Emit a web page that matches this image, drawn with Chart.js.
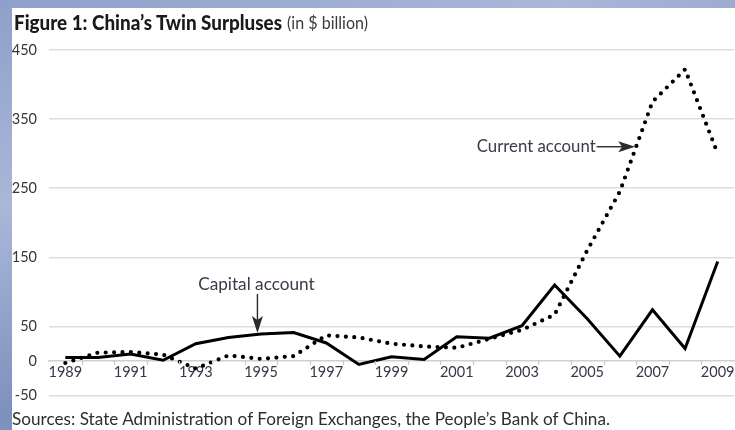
<!DOCTYPE html>
<html>
<head>
<meta charset="utf-8">
<script src="https://cdn.jsdelivr.net/npm/chart.js@4.4.1/dist/chart.umd.min.js"></script>
<style>
  html, body { margin: 0; padding: 0; }
  body {
    width: 735px; height: 430px; position: relative; overflow: hidden;
    background: linear-gradient(160deg, #8f9fc9 0%, #a9b7d8 30%, #7d8fbd 60%, #b8c4e0 100%);
  }
  #panel { position: absolute; left: 12px; top: 8px; right: 0; bottom: 0; background: #ffffff; }
  #wrap { position: absolute; left: 0; top: 0; width: 735px; height: 430px; }
  .t {
    position: absolute; white-space: nowrap; transform-origin: 0 0;
    font-family: Lato, "Noto Sans", sans-serif;
  }
  #t1 { left: 14px; top: 10px; font-size: 20px; font-weight: 900; color: #1a1a1a; }
  #t2 { left: 287px; top: 12px; font-size: 17px; color: #3a3a3a; }
  #source { left: 12px; top: 408px; font-size: 17px; color: #2e2e2e; }
</style>
</head>
<body>
<div id="panel"></div>
<div id="wrap"><canvas id="c" width="735" height="430"></canvas></div>
<div class="t" id="t1">Figure 1: China’s Twin Surpluses</div>
<div class="t" id="t2">(in $ billion)</div>
<div class="t" id="source">Sources: State Administration of Foreign Exchanges, the People’s Bank of China.</div>
<script>
const years = [1989,1990,1991,1992,1993,1994,1995,1996,1997,1998,1999,2000,2001,2002,2003,2004,2005,2006,2007,2008,2009];
const capitalAccount = [5,5,10,1,25,34,39,41,26,-5,6,2,35,33,51,110,61,7,74,18,144];
const currentAccount = [-3,12,13,9,-11,8,3,7,37,34,25,21,19,32,45,67,160,245,375,422,300];
const yTickValues = [-50,0,50,150,250,350,450];
const xTickLabels = [1989,1991,1993,1995,1997,1999,2001,2003,2005,2007,2009];
const seriesNames = ['Capital account','Current account'];

// fit heading texts to the widths seen in the reference (text stays real text)
function fitWidth(id, target) {
  const el = document.getElementById(id);
  const w = el.getBoundingClientRect().width;
  el.style.transform = 'scaleX(' + (target / w) + ')';
}
fitWidth('t1', 268);
fitWidth('t2', 81);
fitWidth('source', 598);

const tickFont = { family: 'Lato, "Noto Sans", sans-serif', size: 14.5 };

const annotationPlugin = {
  id: 'annots',
  afterDatasetsDraw(chart) {
    const ctx = chart.ctx, xs = chart.scales.x, ys = chart.scales.y;
    ctx.save();
    ctx.strokeStyle = '#c8c8c8';
    ctx.lineWidth = 1.2;
    const y0 = ys.getPixelForValue(0);
    for (let i = 0; i < years.length - 1; i++) {
      const px = Math.round(xs.getPixelForValue(years[i] + 0.5)) + 0.5;
      ctx.beginPath(); ctx.moveTo(px, y0); ctx.lineTo(px, y0 + 4); ctx.stroke();
    }
    function head(tx, ty, dx, dy) {
      const len = 17, hw = 5.5, notch = 4;
      const nx = -dy, ny = dx;
      ctx.beginPath();
      ctx.moveTo(tx, ty);
      ctx.lineTo(tx - dx*len + nx*hw, ty - dy*len + ny*hw);
      ctx.lineTo(tx - dx*(len-notch), ty - dy*(len-notch));
      ctx.lineTo(tx - dx*len - nx*hw, ty - dy*len - ny*hw);
      ctx.closePath(); ctx.fill();
    }
    ctx.fillStyle = '#2b2b2b'; ctx.strokeStyle = '#2b2b2b'; ctx.lineWidth = 1.4;
    ctx.font = '16.8px Lato, "Noto Sans", sans-serif';
    const cTailX = xs.getPixelForValue(2005.29), cTipX = xs.getPixelForValue(2006.47), cY = ys.getPixelForValue(310);
    ctx.beginPath(); ctx.moveTo(cTailX, cY); ctx.lineTo(cTipX - 10, cY); ctx.stroke();
    head(cTipX, cY, 1, 0);
    ctx.fillStyle = '#3a3a48';
    ctx.textAlign = 'right'; ctx.textBaseline = 'middle';
    ctx.fillText(seriesNames[1], cTailX - 1, cY);
    ctx.fillStyle = '#2b2b2b';
    const kX = xs.getPixelForValue(1994.89), kTail = ys.getPixelForValue(97), kTip = ys.getPixelForValue(40.5);
    ctx.beginPath(); ctx.moveTo(kX, kTail); ctx.lineTo(kX, kTip - 10); ctx.stroke();
    head(kX, kTip, 0, 1);
    ctx.fillStyle = '#3a3a48';
    ctx.textAlign = 'center';
    ctx.font = '17.2px Lato, "Noto Sans", sans-serif';
    ctx.fillText(seriesNames[0], kX - 1, ys.getPixelForValue(111));
    ctx.restore();
  }
};

new Chart(document.getElementById('c'), {
  type: 'line',
  data: {
    datasets: [
      {
        label: seriesNames[0],
        data: years.map((yr, i) => ({ x: yr, y: capitalAccount[i] })),
        borderColor: '#000', borderWidth: 3, pointRadius: 0, tension: 0,
        borderJoinStyle: 'miter', fill: false
      },
      {
        label: seriesNames[1],
        data: years.map((yr, i) => ({ x: yr, y: currentAccount[i] })),
        borderColor: '#000', borderWidth: 4.2, pointRadius: 0, tension: 0,
        borderDash: [0, 8.4], borderCapStyle: 'round', fill: false
      }
    ]
  },
  options: {
    responsive: false, animation: false, devicePixelRatio: 1,
    layout: { padding: { left: 0, right: 1, top: 50, bottom: 34.5 } },
    plugins: { legend: { display: false }, tooltip: { enabled: false } },
    scales: {
      x: {
        type: 'linear', min: 1988.5, max: 2009.5, position: { y: 0 },
        afterBuildTicks: (s) => { s.ticks = xTickLabels.map(v => ({ value: v })); },
        afterFit: (s) => { s.paddingLeft = 0; s.paddingRight = 0; },
        grid: { display: false, drawTicks: false },
        border: { display: true, color: '#cfcfcf', width: 1.5 },
        ticks: { font: tickFont, color: '#3b3548', padding: 3, maxRotation: 0, autoSkip: false,
                 callback: (v) => String(v) }
      },
      y: {
        min: -50, max: 450,
        afterBuildTicks: (s) => { s.ticks = yTickValues.map(v => ({ value: v })); },
        afterFit: (s) => { s.width = 49; },
        grid: { color: (c) => c.tick && c.tick.value === 0 ? 'rgba(0,0,0,0)' : '#dddddd', lineWidth: 1.5, drawTicks: false },
        border: { display: false },
        ticks: { font: tickFont, color: '#3a3430', padding: 12, autoSkip: false }
      }
    }
  },
  plugins: [annotationPlugin]
});
</script>
</body>
</html>
